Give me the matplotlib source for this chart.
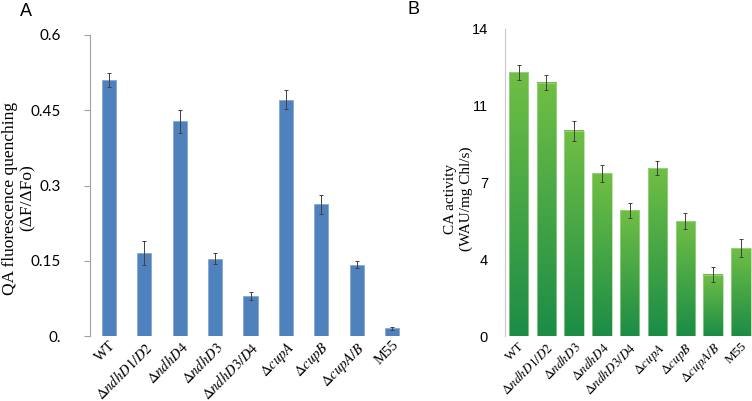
import numpy as np
import matplotlib.pyplot as plt
from matplotlib.colors import LinearSegmentedColormap

plt.rcParams['mathtext.fontset'] = 'stix'

# panel A: QA fluorescence quenching
strains_a = ['WT', r'$\Delta\mathit{ndhD1/D2}$', r'$\Delta\mathit{ndhD4}$', r'$\Delta\mathit{ndhD3}$',
             r'$\Delta\mathit{ndhD3/D4}$', r'$\Delta\mathit{cupA}$', r'$\Delta\mathit{cupB}$',
             r'$\Delta\mathit{cupA/B}$', 'M55']
qa = [0.510, 0.166, 0.428, 0.154, 0.080, 0.471, 0.263, 0.142, 0.015]
qa_err = [0.014, 0.024, 0.023, 0.011, 0.008, 0.019, 0.019, 0.007, 0.003]
yticks_a = [0, 0.15, 0.3, 0.45, 0.6]
ytick_labels_a = ['0.', '0.15', '0.3', '0.45', '0.6']

# panel B: CA activity
strains_b = ['WT', r'$\Delta\mathit{ndhD1/D2}$', r'$\Delta\mathit{ndhD3}$', r'$\Delta\mathit{ndhD4}$',
             r'$\Delta\mathit{ndhD3/D4}$', r'$\Delta\mathit{cupA}$', r'$\Delta\mathit{cupB}$',
             r'$\Delta\mathit{cupA/B}$', 'M55']
ca = [12.02, 11.55, 9.35, 7.42, 5.73, 7.66, 5.23, 2.80, 4.01]
ca_err = [0.35, 0.34, 0.44, 0.38, 0.34, 0.33, 0.36, 0.34, 0.40]
yticks_b = [0, 3.5, 7, 10.5, 14]
ytick_labels_b = ['0', '4', '7', '11', '14']

W, H = 752, 401
fig = plt.figure(figsize=(W / 100, H / 100), dpi=100)

# ---- A ----
axA = fig.add_axes([90 / W, (H - 336) / H, 320 / W, 301 / H])
x = np.arange(len(strains_a))
axA.bar(x, qa, width=0.4, color='#4f81bd', edgecolor='#7fa3d3', linewidth=0.5, zorder=2)
axA.errorbar(x, qa, yerr=qa_err, fmt='none', ecolor='#404040', elinewidth=0.7,
             capsize=1.5, capthick=0.7, zorder=3)
axA.set_xlim(-0.53, 8.5)
axA.set_ylim(0, 0.6)
axA.set_yticks(yticks_a)
axA.set_yticklabels(ytick_labels_a, family='Lato', fontsize=11)
axA.tick_params(axis='y', length=4, width=0.8, color='#a0a0a0', pad=17)
axA.set_xticks(x)
axA.set_xticklabels(strains_a, rotation=45, ha='right', rotation_mode='anchor',
                    family='Liberation Serif', fontsize=10.5)
axA.tick_params(axis='x', length=0, pad=2)
for s in ['top', 'right', 'bottom']:
    axA.spines[s].set_visible(False)
axA.spines['left'].set_color('#a0a0a0')
axA.spines['left'].set_linewidth(0.8)
# y label drawn as two lines so it sits right at the left edge like the original
fig.text(10.5 / W, 1 - 198 / H, 'QA fluorescence quenching', rotation=90,
         ha='center', va='center', family='Liberation Serif', fontsize=12.5)
fig.text(28 / W, 1 - 198 / H, '(ΔF/ΔFo)', rotation=90,
         ha='center', va='center', family='Liberation Serif', fontsize=12.5)
fig.text(20 / W, 1 - 12 / H, 'A', family='Liberation Sans', fontsize=13, va='center')

# ---- B ----
axB = fig.add_axes([504.7 / W, (H - 336) / H, 250 / W, 307 / H])
xb = np.arange(len(strains_b))
green = LinearSegmentedColormap.from_list('g', ['#1b8c47', '#70bf44'])
grad = np.linspace(0, 1, 256).reshape(-1, 1)
bw = 0.7
for xi, v in zip(xb, ca):
    axB.imshow(grad, extent=[xi - bw / 2, xi + bw / 2, 0, v], origin='lower',
               cmap=green, aspect='auto', zorder=2)
axB.bar(xb, ca, width=bw, facecolor='none', edgecolor='#a8d890', linewidth=0.5, zorder=2.5)
axB.errorbar(xb, ca, yerr=ca_err, fmt='none', ecolor='#404040', elinewidth=0.7,
             capsize=1.5, capthick=0.7, zorder=3)
axB.set_aspect('auto')
axB.set_xlim(-0.5, 8.5)
axB.set_ylim(0, 14)
axB.set_yticks(yticks_b)
axB.set_yticklabels(ytick_labels_b, family='Liberation Sans', fontsize=10.5)
axB.tick_params(axis='y', length=0, pad=12)
axB.set_xticks(xb)
axB.set_xticklabels(strains_b, rotation=45, ha='right', rotation_mode='anchor',
                    family='Liberation Serif', fontsize=9.5)
axB.tick_params(axis='x', length=0, pad=3)
for s in ['top', 'right', 'bottom']:
    axB.spines[s].set_visible(False)
axB.spines['left'].set_color('#c8c8c8')
axB.spines['left'].set_linewidth(0.8)
axB.set_ylabel('CA activity\n(WAU/mg Chl/s)', family='Liberation Serif',
               fontsize=11, linespacing=1.25)
axB.yaxis.set_label_coords(-0.125, 0.446)
fig.text(408 / W, 1 - 10 / H, 'B', family='Liberation Sans', fontsize=13, va='center')

fig.savefig('out.png', dpi=100)
